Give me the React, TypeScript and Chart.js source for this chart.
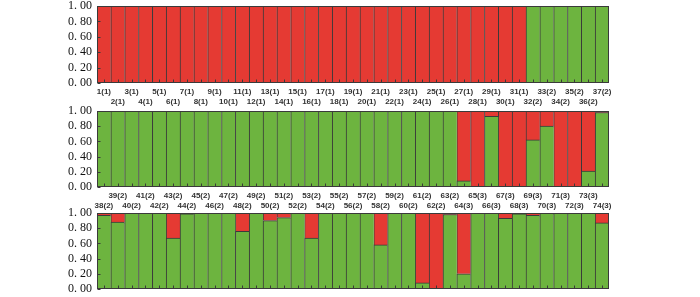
import React, { useEffect, useRef } from 'react';
import { Chart, registerables } from 'chart.js';

Chart.register(...registerables);

const RED = '#E53A33';
const GREEN = '#6DB43F';
const EDGE = '#3a3a3a';

// Panel 1: individuals 1-37
const panel1Labels = [
  '1(1)', '2(1)', '3(1)', '4(1)', '5(1)', '6(1)', '7(1)', '8(1)', '9(1)', '10(1)',
  '11(1)', '12(1)', '13(1)', '14(1)', '15(1)', '16(1)', '17(1)', '18(1)', '19(1)', '20(1)',
  '21(1)', '22(1)', '23(1)', '24(1)', '25(1)', '26(1)', '27(1)', '28(1)', '29(1)', '30(1)',
  '31(1)', '32(2)', '33(2)', '34(2)', '35(2)', '36(2)', '37(2)',
];
const panel1Green = [
  0, 0, 0, 0, 0, 0, 0, 0, 0, 0,
  0, 0, 0, 0, 0, 0, 0, 0, 0, 0,
  0, 0, 0, 0, 0, 0, 0, 0, 0, 0,
  0, 1, 1, 1, 1, 1, 1,
];
const panel1Red = [
  1, 1, 1, 1, 1, 1, 1, 1, 1, 1,
  1, 1, 1, 1, 1, 1, 1, 1, 1, 1,
  1, 1, 1, 1, 1, 1, 1, 1, 1, 1,
  1, 0, 0, 0, 0, 0, 0,
];

// Panel 2: individuals 38-74
const panel2Labels = [
  '38(2)', '39(2)', '40(2)', '41(2)', '42(2)', '43(2)', '44(2)', '45(2)', '46(2)', '47(2)',
  '48(2)', '49(2)', '50(2)', '51(2)', '52(2)', '53(2)', '54(2)', '55(2)', '56(2)', '57(2)',
  '58(2)', '59(2)', '60(2)', '61(2)', '62(2)', '63(2)', '64(3)', '65(3)', '66(3)', '67(3)',
  '68(3)', '69(3)', '70(3)', '71(3)', '72(3)', '73(3)', '74(3)',
];
const panel2Green = [
  1, 1, 1, 1, 1, 1, 1, 1, 1, 1,
  1, 1, 1, 1, 1, 1, 1, 1, 1, 1,
  1, 1, 1, 1, 1, 1, 0.08, 0, 0.93, 0,
  0, 0.62, 0.8, 0, 0, 0.21, 0.98,
];
const panel2Red = [
  0, 0, 0, 0, 0, 0, 0, 0, 0, 0,
  0, 0, 0, 0, 0, 0, 0, 0, 0, 0,
  0, 0, 0, 0, 0, 0, 0.92, 1, 0.07, 1,
  1, 0.38, 0.2, 1, 1, 0.79, 0.02,
];

// Panel 3 (its own labels are not shown)
const panel3Labels = panel2Labels;
const panel3Green = [
  0.97, 0.88, 1, 1, 0.995, 0.67, 0.99, 1, 1, 1,
  0.76, 1, 0.9, 0.94, 1, 0.67, 1, 1, 1, 1,
  0.58, 1, 1, 0.08, 0, 0.98, 0.2, 1, 0.995, 0.93,
  0.99, 0.97, 0.995, 1, 0.995, 1, 0.87,
];
const panel3Red = [
  0.03, 0.12, 0, 0, 0.005, 0.33, 0.01, 0, 0, 0,
  0.24, 0, 0.1, 0.06, 0, 0.33, 0, 0, 0, 0,
  0.42, 0, 0, 0.92, 1, 0.02, 0.8, 0, 0.005, 0.07,
  0.01, 0.03, 0.005, 0, 0.005, 0, 0.13,
];

const yTickLabels = ['0. 00', '0. 20', '0. 40', '0. 60', '0. 80', '1. 00'];

const framePlugin = {
  id: 'frameTicks',
  afterDatasetsDraw(chart: any) {
    const { ctx, chartArea: a, scales } = chart;
    const L = Math.round(a.left) + 0.5;
    const R = Math.round(a.right) - 0.5;
    const T = Math.round(a.top) + 0.5;
    const B = Math.round(a.bottom) - 0.5;
    ctx.save();
    ctx.strokeStyle = EDGE;
    ctx.lineWidth = 1;
    ctx.strokeRect(L, T, R - L, B - T);
    ctx.beginPath();
    scales.y.ticks.forEach((_t: any, i: number) => {
      const y = Math.round(scales.y.getPixelForTick(i)) + 0.5;
      ctx.moveTo(L, y);
      ctx.lineTo(L + 3, y);
    });
    scales.x.ticks.forEach((_t: any, i: number) => {
      const x = Math.round(scales.x.getPixelForTick(i)) + 0.5;
      ctx.moveTo(x, B);
      ctx.lineTo(x, B - 3);
    });
    ctx.stroke();
    ctx.restore();
  },
};

// odd-numbered individuals on the first label row, even-numbered on the second
function twoRows(labels: string[], firstOnTop: boolean) {
  return labels.map((l, i) => ((i % 2 === 0) === firstOnTop ? [l, ''] : ['', l]));
}

type PanelProps = {
  top: number;
  height: number;
  padTop: number;
  padBottom: number;
  xHeight: number;
  showX: boolean;
  firstOnTop: boolean;
  labels: string[];
  green: number[];
  red: number[];
};

function Panel(p: PanelProps) {
  const ref = useRef<HTMLCanvasElement | null>(null);
  useEffect(() => {
    if (!ref.current) return;
    const seg = {
      borderColor: EDGE,
      borderWidth: { top: 1, left: 1, right: 0, bottom: 0 } as any,
      borderSkipped: false as any,
      barPercentage: 1,
      categoryPercentage: 1,
      stack: 's',
    };
    const chart = new Chart(ref.current, {
      type: 'bar',
      data: {
        labels: twoRows(p.labels, p.firstOnTop) as any,
        datasets: [
          { ...seg, data: p.green, backgroundColor: GREEN },
          { ...seg, data: p.red, backgroundColor: RED },
        ],
      },
      options: {
        animation: false,
        responsive: false,
        maintainAspectRatio: false,
        events: [],
        layout: { padding: { top: p.padTop, right: 91, bottom: p.padBottom, left: 0 } },
        plugins: { legend: { display: false }, tooltip: { enabled: false } },
        scales: {
          x: {
            stacked: true,
            display: p.showX,
            grid: { display: false, drawTicks: false },
            border: { display: false },
            ticks: {
              autoSkip: false,
              maxRotation: 0,
              minRotation: 0,
              padding: 3,
              color: '#333',
              font: { family: 'Liberation Sans', size: 8, weight: 'bold', lineHeight: 1.33 },
            },
            afterFit: (s: any) => {
              s.height = p.xHeight;
              s.paddingLeft = 0;
              s.paddingRight = 0;
            },
          },
          y: {
            stacked: true,
            min: 0,
            max: 1,
            grid: { display: false, drawTicks: false },
            border: { display: false },
            ticks: {
              stepSize: 0.2,
              autoSkip: false,
              padding: 5,
              color: '#111',
              font: { family: 'Liberation Serif', size: 12 },
              callback: (_v: any, i: number) => yTickLabels[i],
            },
            afterFit: (s: any) => {
              s.width = 97;
              s.paddingTop = 0;
              s.paddingBottom = 0;
            },
          },
        },
      },
      plugins: [framePlugin],
    });
    return () => chart.destroy();
  }, []);
  return (
    <canvas
      ref={ref}
      width={700}
      height={p.height}
      style={{ position: 'absolute', left: 0, top: p.top, width: 700, height: p.height, display: 'block' }}
    />
  );
}

export default function App() {
  return (
    <div style={{ position: 'fixed', left: 0, top: 0, width: 700, height: 297, background: '#fff', overflow: 'hidden' }}>
      <Panel top={0} height={110} padTop={6} padBottom={0} xHeight={27} showX={true} firstOnTop={true}
        labels={panel1Labels} green={panel1Green} red={panel1Red} />
      <Panel top={100} height={115} padTop={11} padBottom={0} xHeight={28} showX={true} firstOnTop={false}
        labels={panel2Labels} green={panel2Green} red={panel2Red} />
      <Panel top={203} height={94} padTop={10} padBottom={8} xHeight={0} showX={false} firstOnTop={true}
        labels={panel3Labels} green={panel3Green} red={panel3Red} />
    </div>
  );
}
